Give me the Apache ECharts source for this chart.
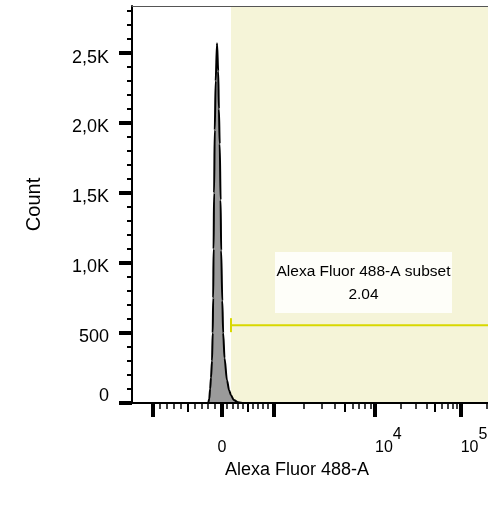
<!DOCTYPE html>
<html>
<head>
<meta charset="utf-8">
<script src="https://cdn.jsdelivr.net/npm/echarts@6/dist/echarts.min.js"></script>
<style>
  html, body { margin: 0; padding: 0; background: #fff; }
  #chart { width: 488px; height: 512px; }
</style>
</head>
<body>
<div id="chart"></div>
<script>
// histogram outline: raw Alexa Fluor 488-A value / event count
const histValues = [-1300, -200, -185, -172, -160, -145, -135, -128, -122, -115, -105, -92, -72,
  -55, -45, -33, -20, -12, 6, 23, 50, 97, 140, 175, 230, 312, 420, 300000];
const histCounts = [0, 0, 30, 100, 180, 300, 500, 750, 1100, 1500, 1950, 2300, 2570,
  2370, 2100, 1850, 1450, 1090, 730, 500, 320, 162, 90, 55, 22, 5, 0, 0];

const countTicks = [0, 500, 1000, 1500, 2000, 2500];
const countMax = 2836;

const fluorMajor = [-1000, 0, 1000, 10000, 100000];
const fluorMedium = [-500, 500, 5000, 50000];
const fluorLabeled = [10000, 100000];

const gateName = 'Alexa Fluor 488-A subset';
const gatePercent = '2.04';
const gateMin = 175;
const gateLevel = 556;

const FONT = '"Liberation Sans", Arial, sans-serif';

// biexponential-like display transform (display units along the axis)
const AXIS_MAX = 370;
function biex(v) {
  if (v <= 0) return 90 + v * 0.069;
  if (v <= 1000) return 90 + v * 0.0513;
  const L = Math.log10(v);
  if (L <= 4) return 141.3 + (L - 3) * 101.7;
  return 243 + (L - 4) * 85.7;
}

// minor ticks
const countMinor = [];
for (let c = 100; c < countMax; c += 100) if (c % 500) countMinor.push(c);
const fluorMinor = [];
for (let v = -900; v < 1000; v += 100) if (v % 500) fluorMinor.push(v);
[1000, 10000, 100000].forEach(d => {
  for (let k = 2; k <= 9; k++) if (k !== 5) fluorMinor.push(k * d);
});

const histData = histValues.map((v, i) => [Math.min(biex(v), AXIS_MAX), histCounts[i]]);
const gx = biex(gateMin);

const hiddenLine = { show: false };
const baseX = {
  type: 'value', min: 0, max: AXIS_MAX, position: 'bottom', z: 10,
  splitLine: { show: false }, axisLine: hiddenLine, axisLabel: { show: false }
};
const baseY = {
  type: 'value', min: 0, max: countMax, position: 'left', z: 10,
  splitLine: { show: false }, axisLine: hiddenLine, axisLabel: { show: false }
};
const txt = { fontSize: 18, fontFamily: FONT, color: '#000' };

const chart = echarts.init(document.getElementById('chart'));
chart.setOption({
  animation: false,
  textStyle: { fontFamily: FONT, color: '#000' },
  grid: { left: 132, right: -14, top: 6, bottom: 109, outerBoundsMode: 'none' },
  xAxis: [
    {
      ...baseX,
      name: 'Alexa Fluor 488-A', nameLocation: 'middle', nameGap: 56,
      nameTextStyle: { fontSize: 18, fontFamily: FONT, color: '#000', padding: [0, 40, 0, 0] },
      axisLine: { show: true, lineStyle: { color: '#000', width: 2 } },
      axisTick: { show: true, customValues: fluorMajor.map(biex), length: 14, lineStyle: { color: '#000', width: 4 } },
      axisLabel: { show: true, customValues: [biex(0)], margin: 37, fontSize: 16, color: '#000',
        formatter: () => '0' }
    },
    {
      ...baseX,
      axisTick: { show: true, customValues: fluorMedium.map(biex), length: 9, lineStyle: { color: '#000', width: 2 } }
    },
    {
      ...baseX,
      axisTick: { show: true, customValues: fluorMinor.map(biex), length: 6, lineStyle: { color: '#000', width: 1.5 } }
    },
    {
      ...baseX,
      axisTick: { show: false },
      axisLabel: {
        show: true, customValues: fluorLabeled.map(biex), align: 'left', margin: 24,
        formatter: v => {
          const raw = fluorLabeled.find(f => Math.abs(biex(f) - v) < 1e-6);
          return '{b|10}{s|' + Math.round(Math.log10(raw)) + '}';
        },
        rich: {
          b: { fontSize: 16, fontFamily: FONT, color: '#000', verticalAlign: 'bottom' },
          s: { fontSize: 16, fontFamily: FONT, color: '#000', verticalAlign: 'top', padding: [0, 0, 13, 0] }
        }
      }
    },
    {
      ...baseX, position: 'top',
      axisLine: { show: true, lineStyle: { color: '#555', width: 1 } },
      axisTick: { show: false }
    }
  ],
  yAxis: [
    {
      ...baseY,
      name: 'Count', nameLocation: 'middle', nameGap: 88,
      nameTextStyle: { fontSize: 20, fontFamily: FONT, color: '#000' },
      axisLine: { show: true, lineStyle: { color: '#000', width: 2 } },
      axisTick: { show: true, customValues: countTicks, length: 13, lineStyle: { color: '#000', width: 4 } },
      axisLabel: {
        show: true, customValues: countTicks.slice(1), margin: 23,
        formatter: v => '{a|' + (v >= 1000 ? (v / 1000).toFixed(1).replace('.', ',') + 'K' : String(v)) + '}',
        rich: { a: { ...txt, padding: [9, 0, 0, 0] } }
      }
    },
    {
      ...baseY,
      axisTick: { show: true, customValues: countMinor, length: 5, lineStyle: { color: '#000', width: 2 } }
    },
    {
      ...baseY,
      axisTick: { show: false },
      axisLabel: { show: true, customValues: [0], margin: 23,
        formatter: () => '{a|0}',
        rich: { a: { ...txt, padding: [0, 0, 13, 0] } } }
    }
  ],
  graphic: {
    elements: [
      { type: 'rect', z: 100, shape: { x: 275, y: 252, width: 177, height: 61 },
        style: { fill: 'rgba(255,255,255,0.85)' } },
      { type: 'text', z: 101, x: 363.5, y: 272,
        style: { text: gateName, fontSize: 15.5, fontFamily: FONT, fill: '#000', align: 'center', verticalAlign: 'middle' } },
      { type: 'text', z: 101, x: 363.5, y: 295,
        style: { text: gatePercent, fontSize: 15.5, fontFamily: FONT, fill: '#000', align: 'center', verticalAlign: 'middle' } }
    ]
  },
  series: [
    {
      name: 'gate', type: 'line', z: 4, symbol: 'none',
      data: [[gx, gateLevel], [AXIS_MAX, gateLevel]],
      lineStyle: { color: '#d8d800', width: 2 },
      markArea: {
        silent: true, z: 1,
        itemStyle: { color: '#f5f4d8' },
        data: [[{ xAxis: gx, yAxis: 0 }, { xAxis: AXIS_MAX, yAxis: countMax }]]
      }
    },
    {
      name: 'gateCap', type: 'line', z: 4, symbol: 'none',
      data: [[gx, gateLevel - 50], [gx, gateLevel + 50]],
      lineStyle: { color: '#d8d800', width: 2 }
    },
    {
      name: 'Count', type: 'line', z: 3, symbol: 'none',
      smooth: 0.3, smoothMonotone: 'x',
      data: histData,
      lineStyle: { color: '#000', width: 2 },
      areaStyle: { color: '#9a9a9a', opacity: 1 }
    }
  ]
});
</script>
</body>
</html>
